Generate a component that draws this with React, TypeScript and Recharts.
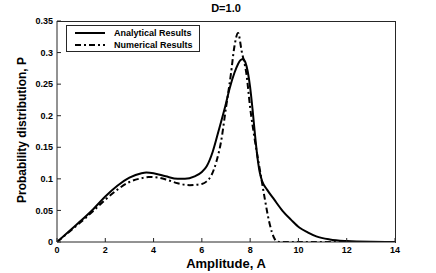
import { LineChart, Line, XAxis, YAxis } from 'recharts'

// amplitude / probability
const numericalAmp = [0, 0.5, 1, 1.5, 2, 2.5, 3, 3.5, 3.8, 4.2, 4.6, 5, 5.5, 6, 6.2, 6.4, 6.6, 6.8, 7.0, 7.2, 7.35, 7.5, 7.65, 7.85, 8.0, 8.2, 8.4, 8.6, 8.8, 9.0, 9.1, 9.3, 10, 11, 12, 13, 14]
const numericalP = [0, 0.016, 0.032, 0.049, 0.067, 0.083, 0.095, 0.101, 0.103, 0.102, 0.098, 0.093, 0.09, 0.092, 0.096, 0.106, 0.127, 0.16, 0.213, 0.265, 0.31, 0.331, 0.302, 0.265, 0.213, 0.16, 0.115, 0.07, 0.03, 0.006, 0.001, 0, 0, 0, 0, 0, 0]

const analyticalAmp = [0, 0.5, 1, 1.5, 2, 2.5, 3, 3.5, 3.7, 4, 4.5, 5, 5.3, 5.7, 6, 6.2, 6.45, 6.7, 6.97, 7.15, 7.35, 7.5, 7.6, 7.7, 7.8, 7.9, 8.0, 8.1, 8.2, 8.3, 8.4, 8.5, 8.7, 9.0, 9.35, 9.7, 10.05, 10.4, 10.74, 11.3, 12, 13, 14]
const analyticalP = [0, 0.017, 0.034, 0.052, 0.072, 0.089, 0.102, 0.109, 0.11, 0.109, 0.104, 0.1, 0.1, 0.104, 0.111, 0.12, 0.143, 0.177, 0.215, 0.243, 0.268, 0.282, 0.288, 0.29, 0.285, 0.27, 0.245, 0.21, 0.17, 0.135, 0.11, 0.096, 0.083, 0.067, 0.049, 0.035, 0.0225, 0.015, 0.009, 0.004, 0.0015, 0.0003, 0]

const xTicks = [0, 2, 4, 6, 8, 10, 12, 14]
const yTicks = [0, 0.05, 0.1, 0.15, 0.2, 0.25, 0.3, 0.35]

const numerical = numericalAmp.map((a, i) => ({ a, p: numericalP[i] }))
const analytical = analyticalAmp.map((a, i) => ({ a, p: analyticalP[i] }))

const font = '"Liberation Sans", Arial, Helvetica, sans-serif'
const axisColor = '#262626'
const tickStyle = { fontSize: 9, fontWeight: 'bold', fill: '#000', fontFamily: font }

function LegendBox() {
  return (
    <div style={{ position: 'absolute', left: 66, top: 25, boxSizing: 'border-box', border: `1px solid ${axisColor}`, background: '#fff', width: 134, height: 27, fontFamily: font, fontSize: 9, fontWeight: 'bold', color: '#000', zIndex: 2 }}>
      <div style={{ display: 'flex', alignItems: 'center', height: 12, marginTop: 1 }}>
        <svg width={40} height={10} style={{ marginLeft: 7 }}>
          <line x1={1} y1={5} x2={31} y2={5} stroke="#000" strokeWidth={2} />
        </svg>
        <span>Analytical Results</span>
      </div>
      <div style={{ display: 'flex', alignItems: 'center', height: 12 }}>
        <svg width={40} height={10} style={{ marginLeft: 7 }}>
          <line x1={1} y1={5} x2={31} y2={5} stroke="#000" strokeWidth={2} strokeDasharray="6 3 2 3" />
        </svg>
        <span>Numerical Results</span>
      </div>
    </div>
  )
}

export default function App() {
  return (
    <div style={{ position: 'absolute', left: 0, top: 0, width: 436, height: 273, background: '#fff', fontFamily: font }}>
      <div style={{ position: 'absolute', left: 0, width: 452, top: 2, textAlign: 'center', fontSize: 11, fontWeight: 'bold' }}>D=1.0</div>
      <div style={{ position: 'absolute', left: 0, width: 452, top: 256, textAlign: 'center', fontSize: 13, fontWeight: 'bold' }}>Amplitude, A</div>
      <div style={{ position: 'absolute', left: 22, top: 131, width: 0, height: 0 }}>
        <div style={{ position: 'absolute', left: -100, top: -8, width: 200, textAlign: 'center', fontSize: 12, fontWeight: 'bold', transform: 'rotate(-90deg)', whiteSpace: 'nowrap' }}>
          Probability distribution, P
        </div>
      </div>
      <LineChart width={436} height={273} margin={{ top: 21, right: 41, bottom: 0, left: 0 }}>
        <XAxis dataKey="a" type="number" domain={[0, 14]} ticks={xTicks} height={31} stroke={axisColor}
          tickSize={-4} tickMargin={9} tick={tickStyle} allowDataOverflow />
        <YAxis dataKey="p" type="number" domain={[0, 0.35]} ticks={yTicks} width={57} stroke={axisColor}
          tickSize={-4} tickMargin={8} tick={tickStyle} allowDataOverflow />
        <Line data={analytical} dataKey="p" type="monotone" stroke="#000" strokeWidth={2} dot={false} isAnimationActive={false} />
        <Line data={numerical} dataKey="p" type="monotone" stroke="#000" strokeWidth={2} strokeDasharray="6 3 2 3" dot={false} isAnimationActive={false} />
      </LineChart>
      {/* box around the plot area (top and right edges) */}
      <div style={{ position: 'absolute', left: 57, top: 21, width: 339, height: 222, boxSizing: 'border-box', borderTop: `1px solid ${axisColor}`, borderRight: `1px solid ${axisColor}`, pointerEvents: 'none' }} />
      <LegendBox />
    </div>
  )
}
